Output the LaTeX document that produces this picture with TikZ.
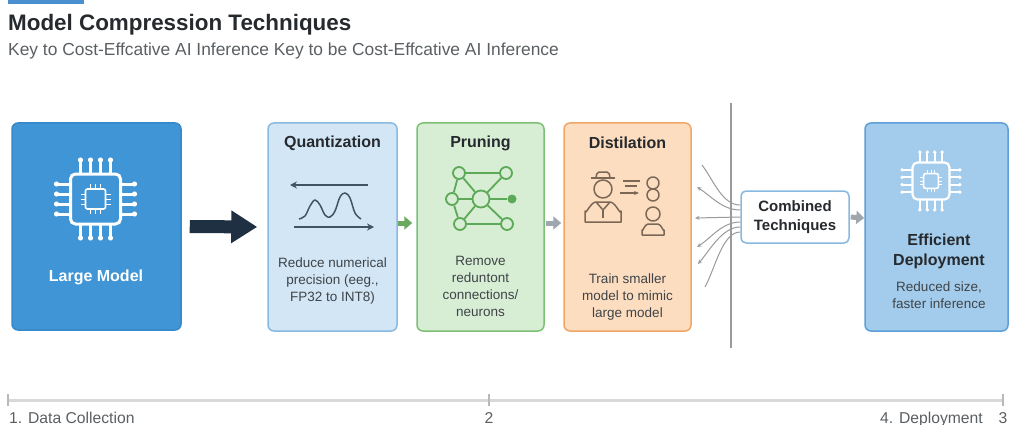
\documentclass[tikz,border=0pt]{standalone}
\usepackage{fontspec}
\setmainfont{Liberation Sans}
\usetikzlibrary{arrows.meta, positioning}

\definecolor{barblue}{HTML}{4A90D0}
\definecolor{inkdark}{HTML}{262A2E}
\definecolor{inkbody}{HTML}{3E4448}
\definecolor{inkgrey}{HTML}{5A5F63}
\definecolor{largefill}{HTML}{3F95D5}
\definecolor{largeline}{HTML}{3788C8}
\definecolor{quantfill}{HTML}{D3E6F5}
\definecolor{quantline}{HTML}{88B9E0}
\definecolor{prunefill}{HTML}{D7EDD4}
\definecolor{pruneline}{HTML}{7DC075}
\definecolor{distfill}{HTML}{FDDDC0}
\definecolor{distline}{HTML}{F2A666}
\definecolor{efffill}{HTML}{A3CCEC}
\definecolor{effline}{HTML}{5D9FD7}
\definecolor{arrowdark}{HTML}{1F3043}
\definecolor{netgreen}{HTML}{5CA957}
\definecolor{arrowgreen}{HTML}{6BAA5E}
\definecolor{arrowgrey}{HTML}{9EA6AE}
\definecolor{fangrey}{HTML}{9A9A9A}
\definecolor{waveink}{HTML}{3F5566}
\definecolor{personink}{HTML}{7B6756}
\definecolor{trackgrey}{HTML}{D9D9D9}

\tikzset{
  stage/.style={draw, rounded corners=6pt, line width=1.5pt, inner sep=0pt},
  stagetitle/.style={font=\fontsize{16}{19}\selectfont\bfseries, text=inkdark, inner sep=0pt},
  stagetext/.style={font=\fontsize{13.5}{17}\selectfont, text=inkbody, align=center, inner sep=0pt},
  bigarrow/.style={draw=arrowdark, line width=13pt, -{Triangle[length=26pt,width=31pt]}},
  steparrow/.style={line width=5pt, -{Triangle[length=8pt,width=13pt]}},
  fanline/.style={draw=fangrey, line width=1pt},
  fantip/.style={-{Stealth[length=4.5pt,width=4pt]}},
  netnode/.style={circle, draw=netgreen, line width=1.8pt, fill=prunefill, inner sep=0pt},
  tracklabel/.style={font=\fontsize{15.7}{18}\selectfont, text=inkgrey, inner sep=0pt},
  chip/.pic={
    \draw[rounded corners=5pt] (-25,-25) rectangle (25,25);
    \draw[line width=1.6pt, rounded corners=2pt] (-10,-10) rectangle (10,10);
    \foreach \p in {-15,-5,5,15}{
      \draw (\p,25) -- (\p,38);  \fill (\p,39) circle (2.6);
      \draw (\p,-25) -- (\p,-38); \fill (\p,-39) circle (2.6);
      \draw (25,\p) -- (38,\p);  \fill (39,\p) circle (2.6);
      \draw (-25,\p) -- (-38,\p); \fill (-39,\p) circle (2.6);
    }
    \foreach \q in {-5,0,5}{
      \draw[line width=1pt] (\q,10) -- (\q,15);
      \draw[line width=1pt] (\q,-10) -- (\q,-15);
      \draw[line width=1pt] (10,\q) -- (15,\q);
      \draw[line width=1pt] (-10,\q) -- (-15,\q);
    }
  }
}

\begin{document}
\begin{tikzpicture}[x=1pt, y=-1pt]
\useasboundingbox (0,0) rectangle (1009,425);

% header
\fill[barblue] (8,0) rectangle (84,4);
\node[anchor=base west, font=\fontsize{22.4}{26}\selectfont\bfseries, text=inkdark, inner sep=0pt]
  (title) at (8,31) {Model Compression Techniques};
\node[anchor=base west, font=\fontsize{17.4}{20}\selectfont, text=inkgrey, inner sep=0pt]
  (subtitle) at (8,56) {Key to Cost-Effcative AI Inference Key to be Cost-Effcative AI Inference};

% stage boxes
\node[stage, fill=largefill, draw=largeline, minimum width=169pt, minimum height=207pt] (large) at (96.5,226.5) {};
\node[stage, fill=quantfill, draw=quantline, minimum width=129pt, minimum height=208pt] (quant) at (332.5,227) {};
\node[stage, fill=prunefill, draw=pruneline, minimum width=127pt, minimum height=208pt] (prune) at (480.5,227) {};
\node[stage, fill=distfill, draw=distline, minimum width=127pt, minimum height=208pt] (dist) at (627.5,227) {};
\node[stage, fill=efffill, draw=effline, minimum width=143pt, minimum height=208pt] (eff) at (936.5,227) {};

% large model
\pic[draw=white, fill=white, line width=3pt] at (95.5,199) {chip};
\node[font=\fontsize{16}{19}\selectfont\bfseries, text=white, inner sep=0pt] (largelbl) at (96,277) {Large Model};

% quantization
\node[stagetitle] (quanttitle) at (332.5,143) {Quantization};
\draw[waveink, line width=1.4pt, -{Stealth[length=7pt,width=7pt]}] (368,185) -- (290,185);
\draw[waveink, line width=1.5pt] plot[smooth, tension=0.6] coordinates
  {(299,219) (305,216) (310,206) (315,200) (320,205) (325,215) (330,217) (335,211) (340,197) (345,193) (350,198) (355,213) (361,219)};
\draw[waveink, line width=1.4pt, -{Stealth[length=7pt,width=7pt]}] (294,227) -- (374,227);
\node[stagetext] (quanttext) at (332.5,281) {Reduce numerical\\precision (eeg.,\\FP32 to INT8)};

% pruning
\node[stagetitle] (prunetitle) at (480.5,143) {Pruning};
\node[netnode, minimum size=12pt] (n1) at (459,173) {};
\node[netnode, minimum size=12pt] (n2) at (506,173) {};
\node[netnode, minimum size=12pt] (n3) at (452,199) {};
\node[netnode, minimum size=17pt] (nc) at (481,199) {};
\node[netnode, minimum size=12pt] (n4) at (460,224) {};
\node[netnode, minimum size=12pt] (n5) at (507,224) {};
\node[circle, fill=netgreen, minimum size=9pt, inner sep=0pt] (nd) at (512,199) {};
\foreach \a/\b in {n1/n2, n1/n3, n1/nc, n2/nc, n3/nc, n3/n4, n4/nc, n5/nc, n4/n5, nc/nd}
  \draw[netgreen, line width=1.8pt] (\a) -- (\b);
\node[stagetext] (prunetext) at (480.5,286) {Remove\\reduntont\\connections/\\neurons};

% distillation
\node[stagetitle] (disttitle) at (627.5,143) {Distilation};
\begin{scope}[draw=personink, line width=1.5pt, line join=round]
  % teacher
  \draw (591,178) -- (615,178);
  \draw[rounded corners=2pt] (596,178) -- (597,172) -- (609,172) -- (610,178);
  \draw (603,189) circle (9);
  \draw (585,222) -- (585,211) to[out=-90,in=180] (596,202) -- (610,202) to[out=0,in=-90] (621,211) -- (621,222) -- cycle;
  \draw (596,202) -- (603,210) -- (610,202);
  \draw (603,210) -- (603,218);
  \draw (623,181) -- (640,181);
  \draw (625,186) -- (637,186);
  \draw[-{Stealth[length=5pt,width=4pt]}] (620,193) -- (639,193);
  % student
  \draw (653,183) circle (6);
  \draw (653,195) circle (6);
  \draw (653,214) circle (7);
  \draw (642,235) -- (642,230) to[out=-90,in=180] (648,224) -- (658,224) to[out=0,in=-90] (664,230) -- (664,235) -- cycle;
\end{scope}
\node[stagetext] (disttext) at (627.5,297) {Train smaller\\model to mimic\\large model};

% combined techniques with the fan of lines
\draw[fangrey, line width=1.2pt] (731,103) -- (731,348);
\node[draw=quantline, fill=white, rounded corners=5pt, line width=1.5pt, minimum width=108pt, minimum height=52pt,
  font=\fontsize{15}{19}\selectfont\bfseries, text=inkdark, align=center, inner sep=0pt]
  (comb) at (795,217) {Combined\\Techniques};
\coordinate (f1) at (702,165);
\coordinate (f2) at (697,187);
\coordinate (f3) at (695,218);
\coordinate (f4) at (697,247);
\coordinate (f5) at (698,264);
\coordinate (f6) at (705,287);
\draw[fanline] ([yshift=12pt]comb.west) .. controls +(-18,0) and +(12,16) .. (f1);
\draw[fanline, fantip] ([yshift=7pt]comb.west) .. controls +(-18,0) and +(14,9) .. (f2);
\draw[fanline, fantip] (comb.west) -- (f3);
\draw[fanline, fantip] ([yshift=-5pt]comb.west) .. controls +(-18,0) and +(14,-9) .. (f4);
\draw[fanline, fantip] ([yshift=-10pt]comb.west) .. controls +(-18,0) and +(12,-14) .. (f5);
\draw[fanline] ([yshift=-15pt]comb.west) .. controls +(-18,0) and +(10,-18) .. (f6);

% efficient deployment
\pic[draw=white, fill=white, line width=2.2pt, scale=0.74] at (931,181) {chip};
\node[font=\fontsize{16}{20}\selectfont\bfseries, text=inkdark, align=center, inner sep=0pt] (efftitle) at (939,251) {Efficient\\Deployment};
\node[stagetext] (efftext) at (939,295) {Reduced size,\\faster inference};

% flow arrows
\draw[bigarrow, shorten <=8pt, shorten >=10pt] (large.east) -- (quant.west);
\draw[steparrow, draw=arrowgreen, shorten >=4pt] ([yshift=4pt]quant.east) -- ([yshift=4pt]prune.west);
\draw[steparrow, draw=arrowgrey, shorten <=1pt, shorten >=2pt] ([yshift=4pt]prune.east) -- ([yshift=4pt]dist.west);
\draw[steparrow, draw=arrowgrey, shorten <=1pt] (comb.east) -- ([yshift=9pt]eff.west);

% timeline
\coordinate (t1) at (8,400);
\coordinate (t2) at (489,400);
\coordinate (t3) at (1003,400);
\draw[trackgrey, line width=3pt] (t1) -- (t3);
\foreach \t in {t1,t2,t3}
  \draw[trackgrey!85!black, line width=1.2pt] ([yshift=6pt]\t) -- ([yshift=-6pt]\t);
\node[tracklabel, anchor=base west] (lbl1) at (9,423) {1. Data Collection};
\node[tracklabel, anchor=base] (lbl2) at (489,423) {2};
\node[tracklabel, anchor=base east] (lbl4) at (983,423) {4. Deployment};
\node[tracklabel, anchor=base] (lbl3) at (1003,423) {3};
\end{tikzpicture}
\end{document}
